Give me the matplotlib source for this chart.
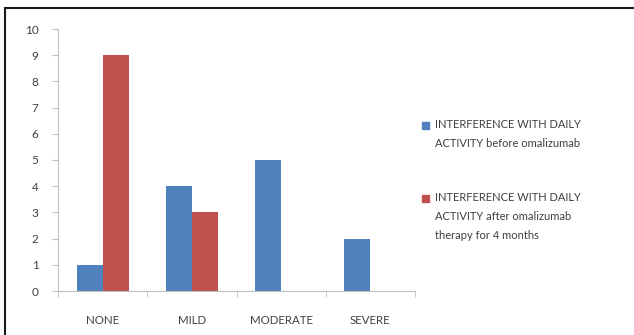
import matplotlib.pyplot as plt
import matplotlib.patches as mpatches
import numpy as np

categories = ['NONE', 'MILD', 'MODERATE', 'SEVERE']
before = [1, 4, 5, 2]
after = [9, 3, 0, 0]
series_labels = ['INTERFERENCE WITH DAILY\nACTIVITY before omalizumab',
                 'INTERFERENCE WITH DAILY\nACTIVITY after omalizumab\ntherapy for 4 months']

plt.rcParams['font.family'] = ['Lato', 'DejaVu Sans']
text_color = '#404040'
axis_color = '#bfbfbf'
colors = ['#4f81bd', '#c0504d']

fig = plt.figure(figsize=(6.34, 3.35), dpi=100)
ax = fig.add_axes([58 / 634, 44 / 335, 357 / 634, 262 / 335])

x = np.arange(len(categories))
w = 0.29
ax.bar(x - w / 2, before, w, color=colors[0])
ax.bar(x + w / 2, after, w, color=colors[1])

ax.set_xlim(-0.5, len(categories) - 0.5)
ax.set_ylim(0, 10)
ax.set_yticks(range(0, 11))
ax.set_xticks(x)
ax.set_xticklabels(categories)
ax.set_xticks(np.arange(-0.5, len(categories), 1), minor=True)

for s in ['top', 'right']:
    ax.spines[s].set_visible(False)
for s in ['left', 'bottom']:
    ax.spines[s].set_color(axis_color)
    ax.spines[s].set_linewidth(0.8)

ax.tick_params(axis='y', length=4, color=axis_color, labelsize=8.5, labelcolor=text_color, pad=10)
ax.tick_params(axis='x', which='major', length=0, labelsize=8.3, labelcolor=text_color, pad=17)
ax.tick_params(axis='x', which='minor', length=4, color=axis_color)

# legend drawn by hand so the spacing follows the reference
legend_y = [125, 198]
for i, lab in enumerate(series_labels):
    yy = 1 - legend_y[i] / 335
    fig.patches.append(mpatches.Rectangle((422 / 634, yy - 3.5 / 335), 7 / 634, 7 / 335,
                                          transform=fig.transFigure, color=colors[i]))
    fig.text(435 / 634, yy + 6 / 335, lab, fontsize=8, color=text_color,
             va='top', ha='left', linespacing=1.9)

# outer frame
fig.patches.append(mpatches.Rectangle((5 / 634, -0.1), 1.2, 1 - 8 / 335 + 0.1,
                                      transform=fig.transFigure, fill=False,
                                      edgecolor='#1a1a1a', linewidth=1.5))

fig.savefig('out.png', dpi=100)
